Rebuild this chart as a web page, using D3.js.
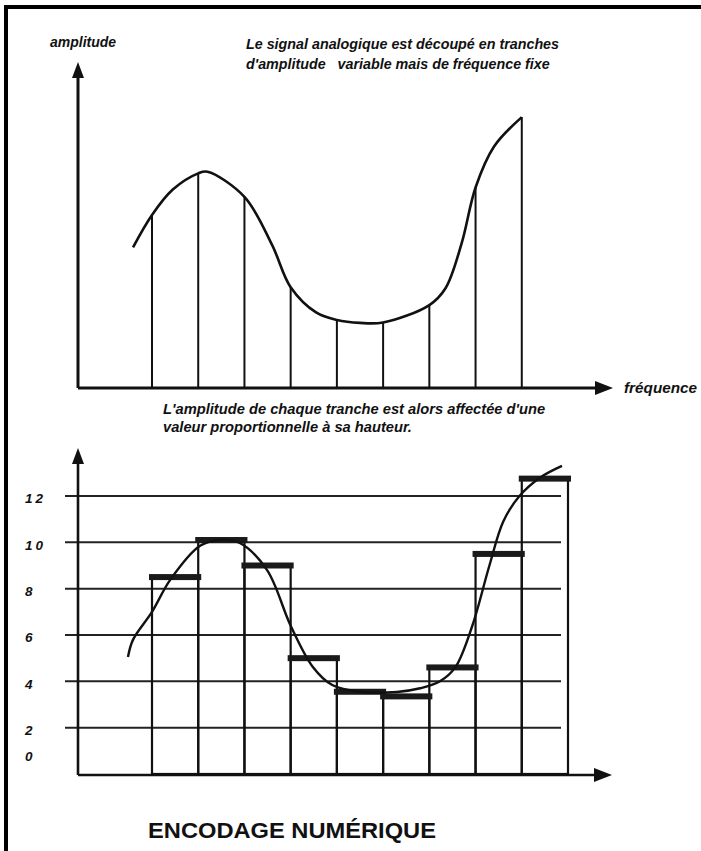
<!DOCTYPE html>
<html>
<head>
<meta charset="utf-8">
<script src="https://cdn.jsdelivr.net/npm/d3@7"></script>
<style>
  body { margin: 0; background: #fff; }
  svg { display: block; }
  text { font-family: "Liberation Sans", Arial, sans-serif; fill: #111; }
</style>
</head>
<body>
<div id="chart"></div>
<script>
// ---- data ----
// upper chart: analog signal and its sampling slices (frequency index, amplitude)
var signalIdx = [-0.41, 0, 0.45, 1, 1.2, 2, 2.6, 3, 3.55, 4, 4.5, 5, 6, 6.35, 6.7, 7, 7.4, 8];
var signalAmp = [6.7, 8.24, 9.45, 10.22, 10.3, 9.1, 6.8, 4.8, 3.6, 3.24, 3.1, 3.12, 3.95, 4.75, 6.9, 9.55, 11.5, 12.9];
var sliceIdx = [0, 1, 2, 3, 4, 5, 6, 7, 8];
var sliceAmp = [8.24, 10.22, 9.1, 4.8, 3.24, 3.12, 3.95, 9.55, 12.9];

// lower chart: quantized value of each slice
var barIdx = [0, 1, 2, 3, 4, 5, 6, 7, 8];
var barValue = [8.5, 10.1, 9.0, 5.0, 3.55, 3.35, 4.6, 9.5, 12.75];
var curveIdx = [-0.52, -0.41, 0, 0.39, 1.04, 1.47, 1.9, 2.49, 3.0, 3.48, 3.9, 4.5, 5.3, 5.8, 6.23, 6.56, 6.93, 7.3, 7.6, 7.95, 8.4, 8.87];
var curveVal = [5.05, 5.8, 7.0, 8.37, 9.85, 10.1, 9.97, 8.8, 6.4, 4.62, 3.84, 3.55, 3.54, 3.7, 4.0, 4.6, 6.4, 9.0, 10.9, 12.0, 12.8, 13.3];
var tickValues = [0, 2, 4, 6, 8, 10, 12];
var gridValues = [2, 4, 6, 8, 10, 12];

var W = 701, H = 851;
var svg = d3.select("#chart").append("svg")
    .attr("width", W)
    .attr("height", H);

svg.append("rect").attr("width", W).attr("height", H).attr("fill", "#fff");

// frame (top and left only)
svg.append("rect").attr("x", 4).attr("y", 5).attr("width", W - 4).attr("height", 4).attr("fill", "#000");
svg.append("rect").attr("x", 4).attr("y", 5).attr("width", 4).attr("height", H - 5).attr("fill", "#000");

// shared frequency scale
var x = d3.scaleLinear().domain([0, 9]).range([152, 568]);
var axisX = 78;

// scales for both charts
var yTop = d3.scaleLinear().domain([0, 14]).range([388, 94]);
var yBot = d3.scaleLinear().domain([0, 12]).range([774, 496]);

function arrowUp(cx, tip) {
  return "M" + cx + "," + tip + "L" + (cx - 6) + "," + (tip + 16) + "L" + (cx + 6) + "," + (tip + 16) + "Z";
}
function arrowRight(tip, cy) {
  return "M" + tip + "," + cy + "L" + (tip - 18) + "," + (cy - 7) + "L" + (tip - 18) + "," + (cy + 7) + "Z";
}
function italic(sel, size) {
  return sel.style("font-size", size + "px").style("font-style", "italic").style("font-weight", "bold");
}

// ================= upper chart =================
var gTop = svg.append("g");

// slices
gTop.selectAll(".slice")
  .data(sliceIdx)
  .join("line")
    .attr("x1", function(d) { return x(d); })
    .attr("x2", function(d) { return x(d); })
    .attr("y1", yTop(0))
    .attr("y2", function(d, i) { return yTop(sliceAmp[i]); })
    .attr("stroke", "#111")
    .attr("stroke-width", 2);

// signal
var topLine = d3.line()
    .x(function(d) { return x(d[0]); })
    .y(function(d) { return yTop(d[1]); })
    .curve(d3.curveCatmullRom.alpha(0.5));
gTop.append("path")
    .attr("d", topLine(d3.zip(signalIdx, signalAmp)))
    .attr("fill", "none")
    .attr("stroke", "#111")
    .attr("stroke-width", 2.6);

// axes
gTop.append("line")
    .attr("x1", axisX).attr("x2", axisX)
    .attr("y1", yTop(0)).attr("y2", 74)
    .attr("stroke", "#111").attr("stroke-width", 3);
gTop.append("path").attr("d", arrowUp(axisX, 62)).attr("fill", "#111");
gTop.append("line")
    .attr("x1", axisX).attr("x2", 600)
    .attr("y1", yTop(0)).attr("y2", yTop(0))
    .attr("stroke", "#111").attr("stroke-width", 3);
gTop.append("path").attr("d", arrowRight(613, yTop(0))).attr("fill", "#111");

// texts
italic(gTop.append("text").attr("x", 50).attr("y", 47), 14)
    .text("amplitude");
italic(gTop.append("text").attr("x", 246).attr("y", 49), 14.3)
    .text("Le signal analogique est découpé en tranches");
italic(gTop.append("text").attr("x", 246).attr("y", 69), 14.3)
    .attr("xml:space", "preserve")
    .style("white-space", "pre")
    .text("d'amplitude   variable mais de fréquence fixe");
italic(gTop.append("text").attr("x", 624).attr("y", 393), 15.3)
    .text("fréquence");
italic(gTop.append("text").attr("x", 163).attr("y", 414), 14.7)
    .text("L'amplitude de chaque tranche est alors affectée d'une");
italic(gTop.append("text").attr("x", 163).attr("y", 432), 14.7)
    .text("valeur proportionnelle à sa hauteur.");

// ================= lower chart =================
var gBot = svg.append("g");

// grid
gBot.selectAll(".grid")
  .data(gridValues)
  .join("line")
    .attr("x1", 65).attr("x2", 561)
    .attr("y1", function(d) { return yBot(d); })
    .attr("y2", function(d) { return yBot(d); })
    .attr("stroke", "#222")
    .attr("stroke-width", 2);

// tick labels via axis
var yAxis = gBot.append("g")
    .attr("transform", "translate(" + axisX + ",0)")
    .call(d3.axisLeft(yBot).tickValues(tickValues).tickSize(0));
yAxis.select(".domain").remove();
yAxis.selectAll("text")
    .attr("x", 25 - axisX)
    .attr("dy", "0.4em")
    .attr("y", function(d) { return d === 0 ? -19 : 1.5; })
    .attr("text-anchor", "start")
    .style("font-family", "'Liberation Sans', Arial, sans-serif")
    .style("font-size", "13.5px").style("font-style", "italic").style("font-weight", "bold")
    .style("letter-spacing", "3px")
    .attr("fill", "#111");

// bars
gBot.selectAll(".bar")
  .data(barIdx)
  .join("rect")
    .attr("x", function(d) { return x(d); })
    .attr("width", function(d) { return x(d + 1) - x(d); })
    .attr("y", function(d, i) { return yBot(barValue[i]); })
    .attr("height", function(d, i) { return yBot(0) - yBot(barValue[i]); })
    .attr("fill", "none")
    .attr("stroke", "#111")
    .attr("stroke-width", 2.2);

// caps
gBot.selectAll(".cap")
  .data(barIdx)
  .join("rect")
    .attr("x", function(d) { return x(d) - 3; })
    .attr("width", function(d) { return x(d + 1) - x(d) + 6; })
    .attr("y", function(d, i) { return yBot(barValue[i]) - 3; })
    .attr("height", 6)
    .attr("fill", "#1a1a1a");

// signal
var botLine = d3.line()
    .x(function(d) { return x(d[0]); })
    .y(function(d) { return yBot(d[1]); })
    .curve(d3.curveCatmullRom.alpha(0.5));
gBot.append("path")
    .attr("d", botLine(d3.zip(curveIdx, curveVal)))
    .attr("fill", "none")
    .attr("stroke", "#111")
    .attr("stroke-width", 2.4);

// axes
gBot.append("line")
    .attr("x1", axisX).attr("x2", axisX)
    .attr("y1", yBot(0) + 1).attr("y2", 460)
    .attr("stroke", "#111").attr("stroke-width", 2.6);
gBot.append("path").attr("d", arrowUp(axisX, 448)).attr("fill", "#111");
gBot.append("line")
    .attr("x1", axisX).attr("x2", 600)
    .attr("y1", yBot(0) + 1).attr("y2", yBot(0) + 1)
    .attr("stroke", "#111").attr("stroke-width", 2.6);
gBot.append("path").attr("d", arrowRight(612, yBot(0) + 1)).attr("fill", "#111");

// title
svg.append("text").attr("x", 148).attr("y", 838)
    .attr("textLength", 288).attr("lengthAdjust", "spacingAndGlyphs")
    .style("font-size", "21.5px").style("font-weight", "bold")
    .text("ENCODAGE NUMÉRIQUE");
</script>
</body>
</html>
